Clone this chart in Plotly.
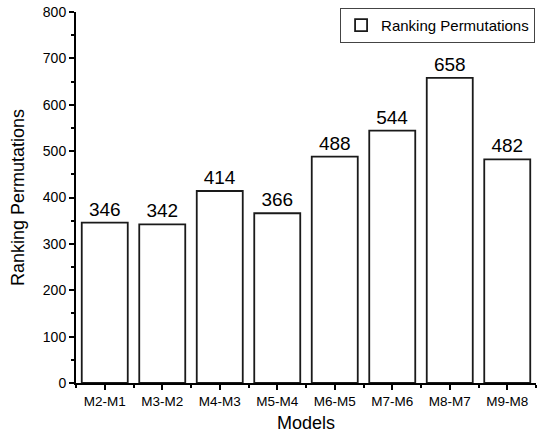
import plotly.graph_objects as go

models = ["M2-M1", "M3-M2", "M4-M3", "M5-M4", "M6-M5", "M7-M6", "M8-M7", "M9-M8"]
permutations = [346, 342, 414, 366, 488, 544, 658, 482]
y_ticks = [0, 100, 200, 300, 400, 500, 600, 700, 800]

FONT = "Liberation Sans, Arial, sans-serif"
positions = list(range(len(models)))

fig = go.Figure()

fig.add_trace(go.Bar(
    x=positions,
    y=permutations,
    name="Ranking Permutations",
    width=0.8,
    marker=dict(color="white", line=dict(color="#1a1a1a", width=1.8)),
    text=[str(v) for v in permutations],
    textposition="outside",
    textfont=dict(family=FONT, size=19, color="black"),
    cliponaxis=False,
))

fig.update_layout(
    width=539,
    height=438,
    margin=dict(l=76, r=3, t=12, b=55),
    plot_bgcolor="white",
    paper_bgcolor="white",
    font=dict(family=FONT, color="black"),
    showlegend=True,
    legend=dict(
        x=0.998, y=1.011, xanchor="right", yanchor="top",
        bordercolor="#444", borderwidth=1, bgcolor="white",
        font=dict(family=FONT, size=15),
        itemwidth=30,
        tracegroupgap=0,
    ),
    xaxis=dict(
        range=[-0.5, 7.5],
        tickvals=positions,
        ticktext=models,
        showline=True, linecolor="black", linewidth=2,
        ticks="outside", ticklen=5, tickwidth=1.5, tickcolor="black",
        minor=dict(tick0=0.5, dtick=1, ticks="outside", ticklen=3, tickcolor="black", tickwidth=1.5),
        showgrid=False, zeroline=False,
        tickfont=dict(size=13.5),
        title=dict(text="Models", font=dict(size=18), standoff=8),
    ),
    yaxis=dict(
        range=[0, 800],
        tickvals=y_ticks,
        showline=True, linecolor="black", linewidth=2,
        ticks="outside", ticklen=5, tickwidth=1.5, tickcolor="black",
        minor=dict(dtick=50, ticks="outside", ticklen=3, tickcolor="black", tickwidth=1.5),
        showgrid=False, zeroline=False,
        tickfont=dict(size=14),
        title=dict(text="Ranking Permutations", font=dict(size=18), standoff=14),
    ),
)

# drop the default page margin so the figure sits at the window's corner
fig.write_html(
    "out.html",
    config={"displayModeBar": False},
    post_script="document.body.style.margin='0';",
)
